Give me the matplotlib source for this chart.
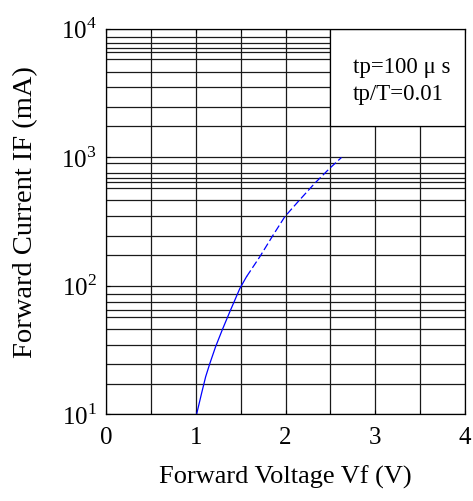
import matplotlib
matplotlib.use("Agg")
import matplotlib.pyplot as plt
from matplotlib.patches import Rectangle

plt.rcParams['font.family'] = ['Liberation Serif', 'DejaVu Serif']
plt.rcParams['mathtext.fontset'] = 'custom'
plt.rcParams['mathtext.rm'] = 'Liberation Serif'

# Forward curve (V, mA)
vf_solid = [1.007, 1.063, 1.108, 1.155, 1.219, 1.293, 1.378, 1.434, 1.49, 1.564]
if_solid = [10, 14.6, 19.6, 24.9, 33.6, 45.4, 63, 77.6, 95.7, 118]
vf_dashed = [1.564, 1.713, 1.861, 1.991, 2.139, 2.325, 2.492, 2.623]
if_dashed = [118, 169, 249, 346, 453, 630, 824, 1000]

# horizontal grid lines as printed on the datasheet (not exact log spacing)
grid_levels = [17.3, 24.5, 34.8, 46.2, 57.5, 64.9, 75.3, 86.5,
               173, 246, 352, 464, 582, 648, 696, 753, 901,
               1750, 2490, 3520, 4660, 5815, 6595, 7160, 7745, 8630]
major_levels = [10, 100, 1000, 10000]
major_labels = ['$10^1$', '$10^2$', '$10^3$', '$10^4$']
x_ticks = [0, 1, 2, 3, 4]
x_grid = [0.5, 1, 1.5, 2, 2.5, 3, 3.5]

fig = plt.figure(figsize=(4.73, 5.01), dpi=100)
ax = fig.add_axes([0.2247, 0.173, 0.7583, 0.769])

ax.set_yscale('log')
ax.set_xlim(0, 4)
ax.set_ylim(10, 10000)

ax.set_yticks(major_levels)
ax.set_yticklabels(major_labels)
ax.set_yticks(grid_levels, minor=True)
ax.set_yticklabels([], minor=True)
ax.set_xticks(x_ticks)
ax.set_xticks(x_grid, minor=True)

ax.tick_params(axis='both', which='major', labelsize=18, length=3, direction='in',
               top=True)
ax.tick_params(axis='y', which='major', pad=7)
ax.tick_params(axis='x', which='major', pad=9)
ax.tick_params(axis='y', which='minor', length=0)
ax.tick_params(axis='x', which='minor', length=3, direction='in', top=True)

ax.set_axisbelow(True)
ax.grid(True, which='both', color='#1a1a1a', linewidth=0.9)

# white legend box in the upper right corner
box = Rectangle((2.5, 1750), 1.5, 10000 - 1750, facecolor='white',
                edgecolor='black', linewidth=0.9, zorder=2)
ax.add_patch(box)
ax.text(2.75, 3950, 'tp=100 μ s\ntp/T=0.01', fontsize=16.5, va='center',
        ha='left', linespacing=1.4, zorder=3)

ax.plot(vf_solid, if_solid, color='blue', linewidth=0.9, zorder=4)
ax.plot(vf_dashed, if_dashed, color='blue', linewidth=0.9, zorder=4,
        dashes=(6, 2.5))

for s in ax.spines.values():
    s.set_linewidth(0.9)
    s.set_zorder(5)

ax.set_xlabel('Forward Voltage Vf (V)', fontsize=19, labelpad=12)
ax.set_ylabel('Forward Current IF (mA)', fontsize=20.5)
ax.yaxis.set_label_coords(-0.19, 0.525)

fig.savefig('out.png', dpi=100)
